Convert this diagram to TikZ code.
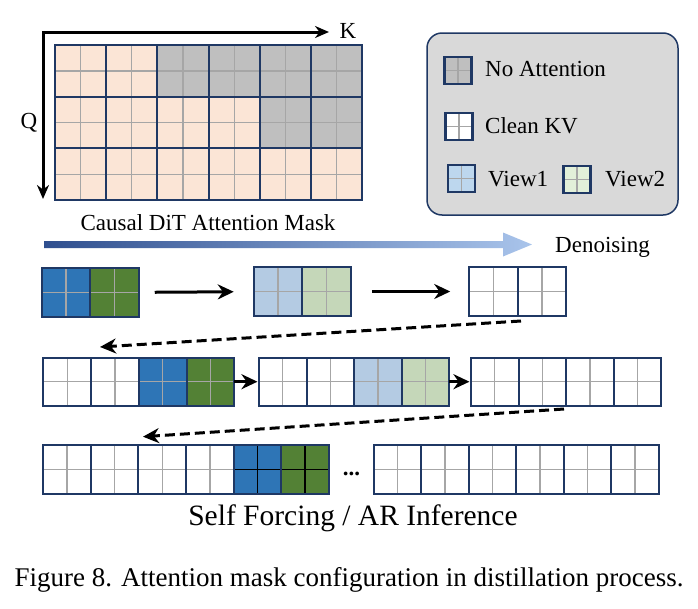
\documentclass[tikz,border=0pt]{standalone}
\usepackage{fontspec}
\setmainfont{Liberation Serif}
\usetikzlibrary{arrows.meta,positioning}

\definecolor{navy}{HTML}{1F3864}
\definecolor{gridgray}{HTML}{A6A6A6}
\definecolor{peach}{HTML}{FBE5D6}
\definecolor{noatt}{HTML}{BFBFBF}
\definecolor{legendgray}{HTML}{D9D9D9}
\definecolor{vone}{HTML}{2E75B6}
\definecolor{vtwo}{HTML}{538135}
\definecolor{vonelight}{HTML}{B4CBE3}
\definecolor{vtwolight}{HTML}{C5D7B9}
\definecolor{legone}{HTML}{BDD7EE}
\definecolor{legtwo}{HTML}{E2F0D9}
\definecolor{dnavy}{HTML}{2F4F8F}
\definecolor{dlight}{HTML}{A9C4EB}

\begin{document}
\begin{tikzpicture}[
    x=1pt, y=-1pt,
    blk/.style={rectangle, draw=navy, line width=2pt, minimum width=47.7pt, minimum height=48pt, inner sep=0pt, outer sep=0pt,
        path picture={\draw[draw=#1, line width=1.3pt] (path picture bounding box.north) -- (path picture bounding box.south)
            (path picture bounding box.west) -- (path picture bounding box.east);}},
    blk/.default=gridgray,
    big/.style={minimum width=48.5pt, minimum height=48.5pt},
    icon/.style={blk, line width=2.4pt, minimum width=27pt, minimum height=27pt},
    lbl/.style={font=\fontsize{23}{28}\selectfont, inner sep=0pt},
    axis/.style={{Stealth[length=14pt, width=12pt]}-{Stealth[length=14pt, width=12pt]}, line width=3pt},
    arrow/.style={-{Stealth[length=16pt, width=15pt]}, line width=3pt},
    back/.style={arrow, dash pattern=on 10pt off 5pt}
]
\useasboundingbox (0,0) rectangle (698,608);

% Causal attention mask (3 x 6 blocks)
\foreach \r/\ncut in {1/2, 2/4, 3/6} {
  \foreach \c in {1,...,6} {
    \ifnum\c>\ncut \def\fc{noatt}\else\def\fc{peach}\fi
    \node[blk, fill=\fc, minimum width=51.2pt, minimum height=51.7pt] (m\r\c) at ({55+51.2*(\c-0.5)}, {45+51.7*(\r-0.5)}) {};
  }
}
\coordinate (qend) at (43,199);
\coordinate (kend) at (329,32);
\draw[axis] (qend) |- (kend);
\node[lbl, anchor=base] (klabel) at (348,38) {K};
\node[lbl, anchor=base] (qlabel) at (29,128) {Q};
\node[lbl, anchor=base] (mlabel) at (208,230) {Causal DiT Attention Mask};

% Legend
\node[draw=navy, line width=1.5pt, fill=legendgray, rounded corners=15pt, minimum width=251pt, minimum height=182pt, inner sep=0pt] (legend) at (552.5,124) {};
\node[icon, fill=noatt] (inoatt) at (458,70.5) {};
\node[lbl, anchor=base west] (lnoatt) at (485,76.7) {No Attention};
\node[icon, fill=white] (iclean) at (459,126.5) {};
\node[lbl, anchor=base west] (lclean) at (485,133.3) {Clean KV};
\node[icon, fill=legone] (iview1) at (461.5,178.5) {};
\node[lbl, anchor=base west] (lview1) at (488,186.7) {View1};
\node[icon, fill=legtwo] (iview2) at (577,179.5) {};
\node[lbl, anchor=base west] (lview2) at (605,186.7) {View2};

% Denoising direction
\shade[left color=dnavy, right color=dlight] (44,241) -- (503,241) -- (503,232.5) -- (532,244.5)
    -- (503,256.5) -- (503,248) -- (44,248) -- cycle;
\node[lbl, anchor=base west] (dlabel) at (555,252) {Denoising};

% Row 1: one chunk denoised
\node[blk, big, fill=vone] (a1) at (66,292.5) {};
\node[blk, big, fill=vtwo, right=0pt of a1] (a2) {};
\node[blk, big, fill=vonelight] (b1) at (278,291.5) {};
\node[blk, big, fill=vtwolight, right=0pt of b1] (b2) {};
\node[blk, big, fill=white] (c1) at (493.5,291.5) {};
\node[blk, big, fill=white, right=0pt of c1] (c2) {};
\draw[arrow, shorten <=16pt, shorten >=20pt] (a2) -- (b1);
\draw[arrow, shorten <=21pt, shorten >=19pt] (b2) -- (c1);

\coordinate (r1end) at (521,321);
\coordinate (r2start) at (100,347);
\draw[back] (r1end) -- (r2start);

% Row 2
\foreach \i/\fc in {1/white, 2/white, 3/vone, 4/vtwo}
  \node[blk, fill=\fc] (d\i) at ({43.3+47.8*(\i-0.5)}, 381.7) {};
\foreach \i/\fc in {1/white, 2/white, 3/vonelight, 4/vtwolight}
  \node[blk, fill=\fc] (e\i) at ({259+47.6*(\i-0.5)}, 381.7) {};
\foreach \i in {1,...,4}
  \node[blk, fill=white] (f\i) at ({471+47.6*(\i-0.5)}, 381.7) {};
\draw[arrow, shorten >=1.5pt] (d4) -- (e1);
\draw[arrow, shorten >=1.5pt] (e4) -- (f1);

\coordinate (r2end) at (564,409);
\coordinate (r3start) at (143,436.7);
\draw[back] (r2end) -- (r3start);

% Row 3: autoregressive inference
\foreach \i/\fc/\cc in {1/white/gridgray, 2/white/gridgray, 3/white/gridgray, 4/white/gridgray, 5/vone/black, 6/vtwo/black}
  \node[blk=\cc, fill=\fc, minimum height=49pt] (g\i) at ({43.3+47.6*(\i-0.5)}, 469.5) {};
\node[lbl, anchor=base, font=\fontsize{23}{28}\selectfont\bfseries] (dots) at (351.6,475) {...};
\foreach \i in {1,...,6}
  \node[blk, fill=white, minimum height=49pt] (h\i) at ({373.6+47.5*(\i-0.5)}, 469.5) {};

\node[anchor=base, inner sep=0pt, font=\fontsize{29.5}{34}\selectfont] (title) at (353,525) {Self Forcing / AR Inference};

% Caption
\node[anchor=base, inner sep=0pt, font=\fontsize{27}{32}\selectfont] (caption) at (349,586.7) {Figure 8. Attention mask configuration in distillation process.};

\end{tikzpicture}
\end{document}
